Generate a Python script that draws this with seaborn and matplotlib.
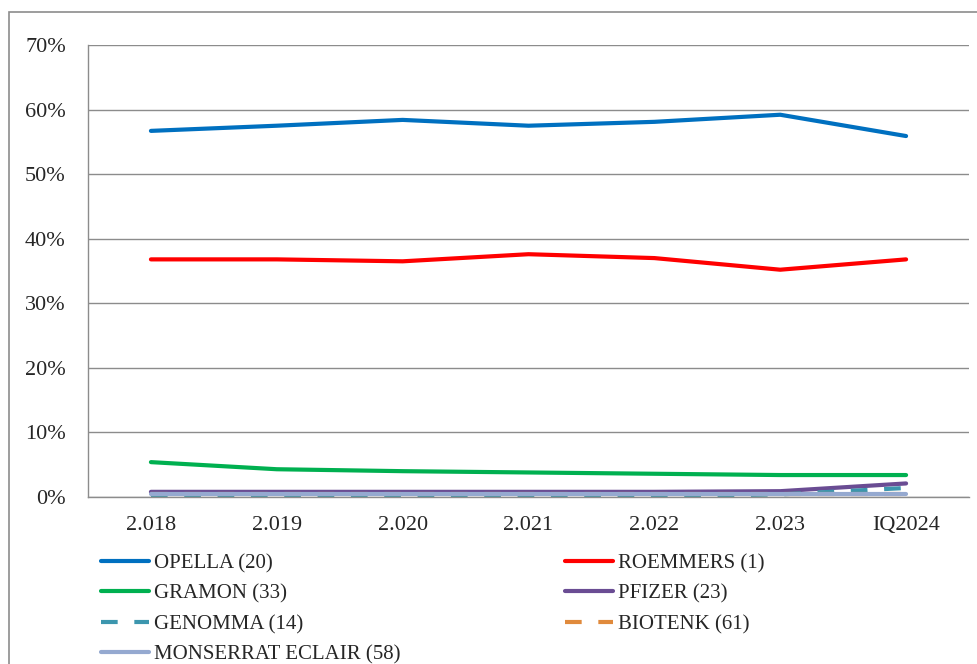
import numpy as np
import pandas as pd
import matplotlib
matplotlib.use('Agg')
import matplotlib.pyplot as plt
import seaborn as sns
from matplotlib.patches import Rectangle
from matplotlib.ticker import PercentFormatter

years = ['2.018', '2.019', '2.020', '2.021', '2.022', '2.023', 'IQ2024']
opella = [56.7, 57.5, 58.4, 57.5, 58.1, 59.2, 55.9]
roemmers = [36.8, 36.8, 36.5, 37.6, 37.0, 35.2, 36.8]
gramon = [5.4, 4.3, 4.0, 3.8, 3.6, 3.4, 3.4]
pfizer = [0.8, 0.8, 0.8, 0.8, 0.8, 0.9, 2.1]
genomma = [0.05, 0.05, 0.05, 0.05, 0.1, 0.4, 1.4]
biotenk = [0.4, 0.4, 0.4, 0.4, 0.4, 0.4, 0.4]
monserrat = [0.4, 0.4, 0.4, 0.4, 0.4, 0.4, 0.4]

names = ['OPELLA (20)', 'ROEMMERS (1)', 'GRAMON (33)', 'PFIZER (23)',
         'GENOMMA (14)', 'BIOTENK (61)', 'MONSERRAT ECLAIR (58)']
colors = ['#0070C0', '#FF0000', '#00B050', '#6A4C93',
          '#3C96AE', '#E08A3C', '#95A9D0']
dashed = [False, False, False, False, True, True, False]

series = [opella, roemmers, gramon, pfizer, genomma, biotenk, monserrat]
rows = []
for name, vals in zip(names, series):
    for i, v in enumerate(vals):
        rows.append({'x': i, 'year': years[i], 'share': v / 100, 'company': name})
df = pd.DataFrame(rows)

sns.set_style('white')
plt.rcParams['font.family'] = ['Liberation Serif', 'DejaVu Serif']

fig = plt.figure(figsize=(9.77, 6.64), dpi=100)
ax = fig.add_axes([88 / 977, 1 - 497 / 664, (969 - 88) / 977, (497 - 45) / 664])

handles = {}
for name, col, ds in zip(names, colors, dashed):
    sub = df[df['company'] == name]
    sns.lineplot(data=sub, x='x', y='share', ax=ax, color=col, linewidth=3,
                 label=name, legend=False)
    line = ax.lines[-1]
    if ds:
        line.set_dashes([4, 4])
    handles[name] = line

ax.set_xlim(-0.5, len(years) - 0.5)
ax.set_ylim(0, 0.7)
ax.set_yticks(np.arange(0, 0.71, 0.1))
ax.yaxis.set_major_formatter(PercentFormatter(1.0, decimals=0))
# ticks between categories, labels in the middle
ax.set_xticks(np.arange(-0.5, len(years), 1.0))
ax.set_xticklabels([])
ax.set_xticks(range(len(years)), minor=True)
ax.set_xticklabels(years, minor=True)
ax.tick_params(axis='x', which='minor', length=0, pad=14, labelsize=16)
ax.tick_params(axis='x', which='major', length=6, color='#888888', direction='out')
ax.tick_params(axis='y', length=6, color='#888888', direction='out', pad=10, labelsize=16)
ax.set_xlabel('')
ax.set_ylabel('')
ax.grid(axis='y', color='#8c8c8c', linewidth=1)
ax.set_axisbelow(True)
for s in ['top', 'right']:
    ax.spines[s].set_visible(False)
for s in ['left', 'bottom']:
    ax.spines[s].set_color('#8c8c8c')
    ax.spines[s].set_linewidth(1)

# row-wise order in a column-filled legend
order = [names[0], names[2], names[4], names[6], names[1], names[3], names[5]]
fig.legend([handles[n] for n in order], order, ncol=2, loc='upper left',
           bbox_to_anchor=(82 / 977, 1 - 535 / 664), frameon=False,
           fontsize=15, handlelength=2.3, handletextpad=0.25,
           columnspacing=7.9, labelspacing=0.52)

# outer chart frame, runs off the right and bottom edges
fig.patches.append(Rectangle((9 / 977, -0.1), 1.2, 1 - 12 / 664 + 0.1,
                             transform=fig.transFigure, fill=False,
                             edgecolor='#8c8c8c', linewidth=1.2))

fig.savefig('out.png', dpi=100)
